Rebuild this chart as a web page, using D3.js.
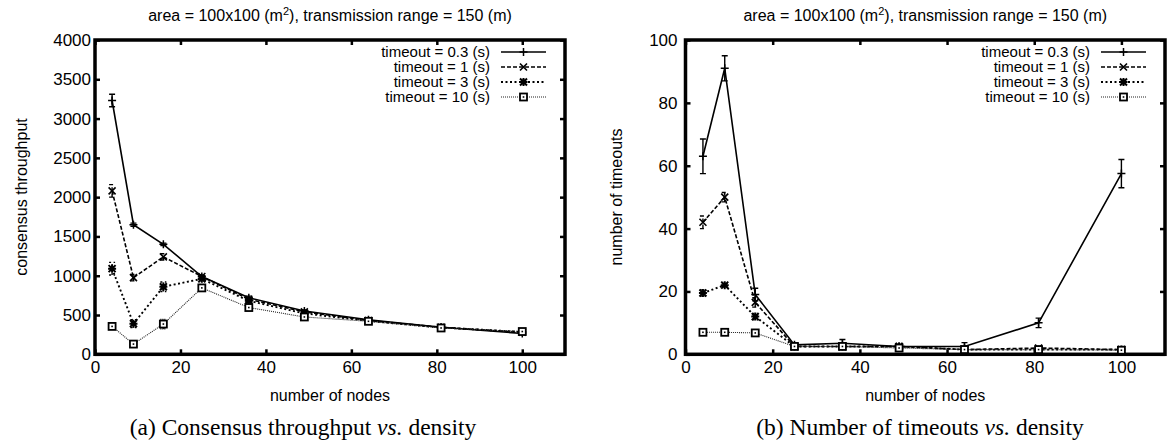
<!DOCTYPE html>
<html>
<head>
<meta charset="utf-8">
<script src="https://cdn.jsdelivr.net/npm/d3@7"></script>
<style>
  html, body { margin: 0; padding: 0; background: #fff; }
  svg text { font-family: "Liberation Sans", Arial, Helvetica, sans-serif; fill: #000; }
  svg text.caption { font-family: "Liberation Serif", "Times New Roman", serif; }
</style>
</head>
<body>
<svg id="chart" width="1173" height="448"></svg>
<script>
// Two gnuplot-style panels: consensus throughput and number of timeouts vs. node count.

const nodes = [4, 9, 16, 25, 36, 49, 64, 81, 100];
const seriesLabels = ['timeout = 0.3 (s)', 'timeout = 1 (s)', 'timeout = 3 (s)', 'timeout = 10 (s)'];

// consensus throughput (mean, half-width of error bar)
const thr03 = [3230, 1650, 1400, 990, 720, 550, 440, 345, 265];
const thr03Err = [80, 20, 15, 15, 20, 15, 10, 10, 10];
const thr1 = [2080, 975, 1240, 990, 700, 540, 430, 345, 280];
const thr1Err = [80, 40, 40, 20, 15, 10, 10, 10, 10];
const thr3 = [1090, 390, 860, 960, 680, 520, 425, 340, 285];
const thr3Err = [80, 50, 60, 20, 15, 10, 10, 10, 10];
const thr10 = [355, 130, 385, 845, 595, 475, 420, 335, 290];
const thr10Err = [30, 20, 60, 40, 20, 15, 10, 10, 10];

// number of timeouts (mean, half-width of error bar)
const tmo03 = [63, 91, 19, 3, 3.5, 2.5, 2.5, 10, 57.5];
const tmo03Err = [5.5, 4, 2, 0.5, 1.2, 0.5, 1.2, 1.5, 4.5];
const tmo1 = [42, 50, 16.5, 2.5, 2.5, 2.5, 1.5, 2, 1.5];
const tmo1Err = [2, 1.5, 1.5, 0.5, 0.5, 0.5, 0.3, 0.3, 0.3];
const tmo3 = [19.5, 22, 12, 2.5, 2.5, 2.5, 1.5, 1.5, 1.5];
const tmo3Err = [1, 0.5, 1, 0.3, 0.3, 0.3, 0.3, 0.3, 0.3];
const tmo10 = [7, 7, 6.8, 2.5, 2.5, 2, 1.5, 1.5, 1.3];
const tmo10Err = [0.3, 0.3, 0.3, 0.3, 0.3, 0.3, 0.3, 0.3, 0.3];

const xTicks = [0, 20, 40, 60, 80, 100];
const thrTicks = [0, 500, 1000, 1500, 2000, 2500, 3000, 3500, 4000];
const tmoTicks = [0, 20, 40, 60, 80, 100];

const titleText = ['area = 100x100 (m', '2', '), transmission range = 150 (m)'];

// line style per series, same order as seriesLabels
const styles = [
  {dash: null,    width: 1.6, color: '#000', mark: 'plus'},
  {dash: '4,2',   width: 1.6, color: '#000', mark: 'cross'},
  {dash: '2,2.5', width: 1.9, color: '#000', mark: 'star'},
  {dash: '1,1',   width: 1.1, color: '#222', mark: 'box'},
];

const svg = d3.select('#chart');

function drawMarker(g, kind, x, y) {
  if (kind === 'plus') {
    g.append('path').attr('d', `M${x - 4},${y}H${x + 4}M${x},${y - 4}V${y + 4}`)
      .attr('stroke', '#000').attr('stroke-width', 1.5);
  } else if (kind === 'cross') {
    g.append('path').attr('d', `M${x - 3.5},${y - 3.5}L${x + 3.5},${y + 3.5}M${x - 3.5},${y + 3.5}L${x + 3.5},${y - 3.5}`)
      .attr('stroke', '#000').attr('stroke-width', 1.6);
  } else if (kind === 'star') {
    g.append('path').attr('d', `M${x - 4},${y}H${x + 4}M${x},${y - 4}V${y + 4}` +
        `M${x - 3.5},${y - 3.5}L${x + 3.5},${y + 3.5}M${x - 3.5},${y + 3.5}L${x + 3.5},${y - 3.5}`)
      .attr('stroke', '#000').attr('stroke-width', 2);
  } else {
    g.append('rect').attr('x', x - 3.5).attr('y', y - 3.5).attr('width', 7).attr('height', 7)
      .attr('fill', '#fff').attr('stroke', '#000').attr('stroke-width', 1.8);
    g.append('rect').attr('x', x - 0.8).attr('y', y - 0.8).attr('width', 1.6).attr('height', 1.6)
      .attr('fill', '#000');
  }
}

function drawPanel(p) {
  const x = d3.scaleLinear().domain([0, 110]).range(p.xRange);
  const y = d3.scaleLinear().domain(p.yDomain).range([354.3, 40]);
  const [x0, x1] = p.xRange;
  const g = svg.append('g');

  // axes with inward ticks, mirrored on top and right
  const bottom = g.append('g').attr('transform', 'translate(0,354.3)')
    .call(d3.axisBottom(x).tickValues(xTicks).tickSizeInner(-5).tickSizeOuter(0).tickPadding(13)
      .tickFormat(d3.format('d')));
  const left = g.append('g').attr('transform', `translate(${x0},0)`)
    .call(d3.axisLeft(y).tickValues(p.yTicks).tickSizeInner(-5).tickSizeOuter(0).tickPadding(p.yPad)
      .tickFormat(d3.format('d')));
  const top = g.append('g').attr('transform', 'translate(0,40)')
    .call(d3.axisTop(x).tickValues(xTicks).tickSizeInner(-5).tickSizeOuter(0).tickFormat(''));
  const right = g.append('g').attr('transform', `translate(${x1},0)`)
    .call(d3.axisRight(y).tickValues(p.yTicks).tickSizeInner(-5).tickSizeOuter(0).tickFormat(''));
  [bottom, left, top, right].forEach(a => {
    a.select('.domain').remove();
    a.selectAll('.tick line').attr('stroke', '#000').attr('stroke-width', 2.5);
    a.selectAll('.tick text').attr('font-size', 17).attr('font-family', null);
  });
  bottom.selectAll('.tick text').attr('dy', '0.35em');

  g.append('rect').attr('x', x0).attr('y', 40).attr('width', x1 - x0).attr('height', 314.3)
    .attr('fill', 'none').attr('stroke', '#000').attr('stroke-width', 3.5);

  // titles
  const cx = (x0 + x1) / 2;
  const t = g.append('text').attr('x', cx).attr('y', 21).attr('text-anchor', 'middle').attr('font-size', 16);
  t.append('tspan').text(titleText[0]);
  t.append('tspan').attr('dy', -6).attr('font-size', 11).text(titleText[1]);
  t.append('tspan').attr('dy', 6).text(titleText[2]);

  g.append('text').attr('x', cx).attr('y', 401).attr('text-anchor', 'middle').attr('font-size', 16)
    .text('number of nodes');
  g.append('text').attr('transform', `translate(${p.yLabelX},197) rotate(-90)`)
    .attr('text-anchor', 'middle').attr('font-size', 16).text(p.yLabel);

  // series: line, error bars, markers
  const line = d3.line().x(d => x(d.n)).y(d => y(d.v));
  p.series.forEach((s, i) => {
    const st = styles[i];
    const pts = nodes.map((n, k) => ({n: n, v: s.mean[k], e: s.err[k]}));
    const sg = g.append('g');
    sg.append('path').datum(pts).attr('d', line).attr('fill', 'none')
      .attr('stroke', st.color).attr('stroke-width', st.width).attr('stroke-dasharray', st.dash);
    sg.selectAll('path.err').data(pts).enter().append('path').attr('class', 'err')
      .attr('d', d => {
        const px = x(d.n), ya = y(d.v - d.e), yb = y(d.v + d.e);
        return `M${px},${ya}V${yb}M${px - 3},${ya}H${px + 3}M${px - 3},${yb}H${px + 3}`;
      })
      .attr('fill', 'none').attr('stroke', '#000').attr('stroke-width', 1.4)
      .attr('stroke-dasharray', st.dash);
    pts.forEach(d => drawMarker(sg, st.mark, x(d.n), y(d.v)));

    // legend row
    const ly = 52 + i * 15;
    sg.append('text').attr('x', x1 - 75).attr('y', ly + 5.3).attr('text-anchor', 'end')
      .attr('font-size', 15).text(seriesLabels[i]);
    sg.append('line').attr('x1', x1 - 64).attr('x2', x1 - 19).attr('y1', ly).attr('y2', ly)
      .attr('stroke', st.color).attr('stroke-width', st.width).attr('stroke-dasharray', st.dash);
    drawMarker(sg, st.mark, x1 - 41.5, ly);
  });

  // caption under the panel
  const cap = g.append('text').attr('class', 'caption').attr('x', p.capX).attr('y', 435)
    .attr('text-anchor', 'middle').attr('font-size', 23.5);
  cap.append('tspan').text(p.caption[0]);
  cap.append('tspan').attr('font-style', 'italic').text(' vs.');
  cap.append('tspan').text(p.caption[1]);
}

drawPanel({
  xRange: [95, 565],
  yDomain: [0, 4000],
  yTicks: thrTicks,
  yPad: 4,
  yLabel: 'consensus throughput',
  yLabelX: 27,
  caption: ['(a)  Consensus throughput', ' density'],
  capX: 303,
  series: [
    {mean: thr03, err: thr03Err},
    {mean: thr1, err: thr1Err},
    {mean: thr3, err: thr3Err},
    {mean: thr10, err: thr10Err},
  ],
});

drawPanel({
  xRange: [685.5, 1165],
  yDomain: [0, 100],
  yTicks: tmoTicks,
  yPad: 8,
  yLabel: 'number of timeouts',
  yLabelX: 622,
  caption: ['(b)  Number of timeouts', ' density'],
  capX: 920,
  series: [
    {mean: tmo03, err: tmo03Err},
    {mean: tmo1, err: tmo1Err},
    {mean: tmo3, err: tmo3Err},
    {mean: tmo10, err: tmo10Err},
  ],
});
</script>
</body>
</html>
